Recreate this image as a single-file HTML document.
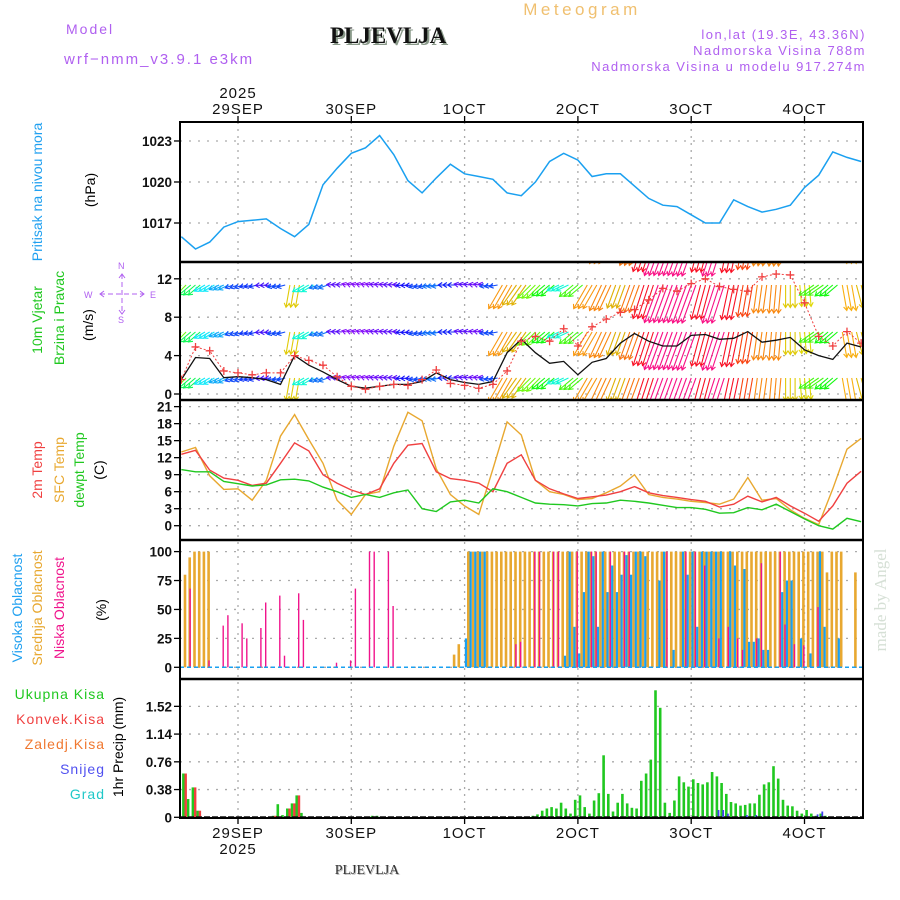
<!DOCTYPE html>
<html><head><meta charset="utf-8">
<style>
html,body{margin:0;padding:0;background:#fff;}
svg{display:block;font-family:"Liberation Sans",sans-serif;}
</style></head>
<body>
<svg id="chart" width="900" height="900" viewBox="0 0 900 900" xmlns="http://www.w3.org/2000/svg">
<defs>
<clipPath id="clipW"><rect x="180" y="262" width="683" height="138"/></clipPath>
<clipPath id="clipAll"><rect x="180" y="122" width="683" height="696"/></clipPath>
</defs>
<text x="582" y="15" text-anchor="middle" font-size="17" letter-spacing="3.5" fill="#f0c070">Meteogram</text>
<text x="332" y="45" font-family="Liberation Serif,serif" font-weight="bold" font-size="23" fill="#8a9a8a">PLJEVLJA</text>
<text x="330" y="43" font-family="Liberation Serif,serif" font-weight="bold" font-size="23" fill="#111">PLJEVLJA</text>
<text x="66" y="34" font-size="14" letter-spacing="2" fill="#b060f0">Model</text>
<text x="64" y="64" font-size="15" letter-spacing="2" fill="#b060f0">wrf−nmm_v3.9.1 e3km</text>
<text x="866" y="39" text-anchor="end" font-size="13" letter-spacing="1.5" fill="#b060f0">lon,lat (19.3E, 43.36N)</text>
<text x="866" y="55" text-anchor="end" font-size="13" letter-spacing="1.5" fill="#b060f0">Nadmorska Visina 788m</text>
<text x="866" y="71" text-anchor="end" font-size="13" letter-spacing="1.5" fill="#b060f0">Nadmorska Visina u modelu 917.274m</text>
<text x="368" y="875" text-anchor="middle" font-family="Liberation Serif,serif" font-size="14" fill="#bbb">PLJEVLJA</text>
<text x="367" y="874" text-anchor="middle" font-family="Liberation Serif,serif" font-size="14" fill="#333">PLJEVLJA</text>
<text transform="translate(886,600) rotate(-90)" text-anchor="middle" font-family="Liberation Serif,serif" font-size="17" fill="#d6e0d6">made by Angel</text>

<text transform="translate(42,192) rotate(-90)" text-anchor="middle" font-size="14" fill="#20a0f0">Pritisak na nivou mora</text>
<text transform="translate(95,190) rotate(-90)" text-anchor="middle" font-size="14" fill="#000">(hPa)</text>
<text transform="translate(42,320) rotate(-90)" text-anchor="middle" font-size="14" fill="#20c820">10m Vjetar</text>
<text transform="translate(64,318) rotate(-90)" text-anchor="middle" font-size="14" fill="#20c820">Brzina i Pravac</text>
<text transform="translate(93,325) rotate(-90)" text-anchor="middle" font-size="14" fill="#000">(m/s)</text>
<g fill="#b060f0" stroke="#b060f0" font-size="9">
<text x="118" y="269" stroke="none">N</text>
<text x="84" y="298" stroke="none">W</text>
<text x="150" y="298" stroke="none">E</text>
<text x="118" y="323" stroke="none">S</text>
<line x1="122" y1="274" x2="122" y2="313" stroke-dasharray="5,3" stroke-width="1"/>
<line x1="100" y1="294" x2="144" y2="294" stroke-dasharray="5,3" stroke-width="1"/>
<path d="M119,278 L122,274 L125,278 M119,310 L122,314 L125,310 M104,291 L100,294 L104,297 M140,291 L144,294 L140,297" fill="none" stroke-width="1"/>
</g>
<text transform="translate(42,470) rotate(-90)" text-anchor="middle" font-size="14" fill="#f04040">2m Temp</text>
<text transform="translate(64,470) rotate(-90)" text-anchor="middle" font-size="14" fill="#e8a830">SFC Temp</text>
<text transform="translate(84,470) rotate(-90)" text-anchor="middle" font-size="14" fill="#20c820">dewpt Temp</text>
<text transform="translate(104,470) rotate(-90)" text-anchor="middle" font-size="14" fill="#000">(C)</text>
<text transform="translate(22,608) rotate(-90)" text-anchor="middle" font-size="14" fill="#20a0f0">Visoka Oblacnost</text>
<text transform="translate(42,608) rotate(-90)" text-anchor="middle" font-size="14" fill="#e8a830">Srednja Oblacnost</text>
<text transform="translate(64,608) rotate(-90)" text-anchor="middle" font-size="14" fill="#f0148c">Niska Oblacnost</text>
<text transform="translate(106,610) rotate(-90)" text-anchor="middle" font-size="14" fill="#000">(%)</text>
<g font-size="14" letter-spacing="1" text-anchor="end">
<text x="105" y="699" fill="#20c820">Ukupna Kisa</text>
<text x="105" y="724" fill="#f04040">Konvek.Kisa</text>
<text x="105" y="749" fill="#f07830">Zaledj.Kisa</text>
<text x="105" y="774" fill="#5050f0">Snijeg</text>
<text x="105" y="799" fill="#20c8c8">Grad</text>
</g>
<text transform="translate(123,747) rotate(-90)" text-anchor="middle" font-size="14" fill="#000">1hr Precip (mm)</text>

<g id="grid"></g>
<g id="marks"></g>
<g id="frame"></g>
</svg>
<script>
const pressure = [1016.0,1015.1,1015.6,1016.7,1017.1,1017.2,1017.3,1016.6,1016.0,1016.9,1019.8,1021.0,1022.1,1022.5,1023.4,1022.0,1020.1,1019.2,1020.3,1021.3,1020.6,1020.4,1020.2,1019.2,1019.0,1020.0,1021.5,1022.1,1021.6,1020.4,1020.6,1020.6,1019.7,1018.8,1018.3,1018.2,1017.6,1017.0,1017.0,1018.7,1018.2,1017.8,1018.0,1018.3,1019.6,1020.5,1022.2,1021.8,1021.5];
const temp2m = [12.6,13.3,9.8,8.4,8.0,7.1,7.5,11.0,14.6,13.2,9.0,7.5,6.3,5.5,6.5,11.0,14.2,14.5,9.5,8.3,8.0,7.5,6.0,11.0,12.5,8.0,6.5,5.6,4.8,5.1,5.4,6.0,6.9,5.8,5.3,5.0,4.6,4.3,3.3,3.8,5.2,4.2,5.0,3.5,2.2,0.8,3.5,7.5,9.6];
const tempSfc = [13.0,13.8,8.8,6.4,6.5,4.5,8.0,15.8,19.6,15.2,11.0,4.5,2.0,5.5,6.0,14.0,20.0,18.5,10.0,5.5,3.5,2.0,10.0,18.3,16.0,8.0,6.0,5.5,4.6,4.8,5.8,7.0,9.0,5.5,5.0,4.7,4.3,4.1,3.8,4.7,8.5,4.5,4.8,2.8,1.3,0.2,6.5,13.5,15.4];
const dewpt = [9.9,9.5,9.5,7.8,7.4,7.0,7.2,8.1,8.2,7.9,6.8,6.0,5.0,5.5,5.0,5.8,6.3,3.0,2.5,4.2,4.5,4.0,6.5,6.0,5.0,4.0,3.8,3.7,3.5,3.9,4.0,4.5,4.3,4.0,3.6,3.2,3.2,2.9,2.2,2.3,3.2,2.8,3.8,2.5,1.2,0.0,-0.6,1.3,0.7];
const windSpeed = [1.5,3.8,3.7,1.7,1.8,1.7,1.5,1.0,4.0,3.0,2.3,1.5,0.8,0.6,0.8,1.0,1.0,1.3,2.2,1.5,1.2,1.0,1.3,4.3,5.7,4.3,3.2,3.4,2.0,3.3,3.7,5.3,6.3,5.5,5.0,5.0,6.1,6.2,5.7,5.8,6.5,5.4,5.6,5.9,4.6,4.0,3.6,5.3,4.9];
const windGust = [1.5,4.9,4.5,2.4,2.2,2.0,2.2,2.2,4.0,3.5,3.0,1.8,0.8,0.5,0.8,1.0,0.9,1.5,2.5,1.1,0.9,0.6,1.0,2.4,5.5,6.0,5.5,6.8,5.0,7.0,7.8,8.5,8.8,9.8,11.0,10.7,11.5,12.0,11.2,10.9,10.7,12.2,12.5,12.4,9.5,6.0,5.0,6.5,5.3];
const windDir = [225,230,240,245,250,255,265,255,190,240,250,275,285,285,280,275,265,255,260,270,280,280,260,210,215,225,230,245,230,210,205,200,200,198,200,200,200,195,198,192,190,188,185,180,175,235,230,170,165];
const arrowSpeed = [4.0,3.3,2.6,2.3,1.8,1.7,1.3,1.8,4.8,2.8,2.0,1.2,1.0,1.0,1.1,1.2,1.5,1.8,2.0,1.6,1.2,1.1,1.8,5.8,5.2,4.0,3.6,2.8,3.8,5.8,6.0,5.2,6.2,7.5,8.5,8.5,8.6,7.5,8.5,7.5,6.8,6.0,6.0,4.8,4.6,3.8,3.6,5.5,5.0];
const cloudHigh = [[60,25],[61,100],[62,100],[63,100],[64,100],[81,10],[82,100],[83,35],[84,12],[85,65],[86,100],[87,96],[88,35],[89,100],[90,65],[91,88],[92,65],[93,80],[94,97],[95,80],[96,100],[97,100],[98,96],[101,75],[102,100],[104,15],[106,100],[107,80],[108,100],[109,35],[110,100],[111,100],[112,100],[113,100],[114,100],[116,100],[117,88],[119,85],[120,22],[121,22],[122,25],[123,15],[124,15],[127,65],[128,75],[129,75],[131,25],[133,12],[135,100],[136,35],[139,25]];
const cloudMid = [[0,80],[1,95],[2,100],[3,100],[4,100],[5,100],[57,11],[58,20],[60,100],[61,100],[62,100],[63,100],[64,100],[65,100],[66,100],[67,100],[68,100],[69,100],[70,100],[71,100],[72,100],[73,100],[74,100],[75,100],[76,100],[77,100],[78,100],[79,100],[80,100],[81,100],[82,100],[83,100],[84,100],[85,100],[86,100],[87,100],[88,100],[89,100],[90,100],[91,100],[92,100],[93,100],[94,100],[95,100],[96,100],[97,100],[98,100],[99,100],[100,100],[101,100],[102,100],[103,100],[104,100],[105,100],[106,100],[107,100],[108,100],[109,100],[110,100],[111,100],[112,100],[113,100],[114,100],[115,100],[116,100],[117,100],[118,100],[119,100],[120,100],[121,100],[122,100],[123,100],[124,100],[125,100],[126,100],[127,100],[128,100],[129,100],[130,100],[131,100],[132,100],[133,100],[134,100],[135,100],[136,82],[137,100],[138,100],[139,100],[142,82]];
const cloudLow = [[1,68],[5,6],[8,36],[9,45],[12,38],[13,25],[16,34],[17,56],[20,62],[21,10],[24,64],[25,41],[32,4],[35,6],[36,68],[39,100],[40,100],[43,100],[44,53],[70,20],[71,22],[74,100],[75,100],[78,100],[79,100],[83,100],[86,100],[87,100],[90,100],[93,100],[94,100],[102,100],[106,100],[108,100],[110,88],[113,25],[115,35],[117,25],[118,15],[121,25],[122,90],[126,100],[127,37],[129,20],[131,19],[134,52]];
const precipTotal = [[0,0.6],[1,0.25],[2,0.41],[3,0.09],[19,0.02],[20,0.18],[21,0.03],[22,0.12],[23,0.19],[24,0.3],[25,0.06],[39,0.01],[40,0.02],[41,0.02],
[74,0.02],[75,0.04],[76,0.09],[77,0.12],[78,0.14],[79,0.12],[80,0.2],[81,0.12],[82,0.05],[83,0.24],[84,0.3],[85,0.14],[86,0.05],[87,0.23],[88,0.33],[89,0.85],[90,0.32],[91,0.08],[92,0.2],[93,0.32],[94,0.19],[95,0.13],[96,0.12],[97,0.5],[98,0.6],[99,0.79],[100,1.74],[101,1.5],[102,0.2],[103,0.06],[104,0.23],[105,0.56],[106,0.48],[107,0.42],[108,0.52],[109,0.47],[110,0.45],[111,0.48],[112,0.62],[113,0.56],[114,0.47],[115,0.32],[116,0.21],[117,0.19],[118,0.16],[119,0.17],[120,0.19],[121,0.19],[122,0.31],[123,0.45],[124,0.48],[125,0.7],[126,0.53],[127,0.24],[128,0.16],[129,0.15],[130,0.09],[131,0.05],[132,0.1],[133,0.05],[134,0.02],[135,0.05],[136,0.02]];
const precipConv = [[0,0.6],[2,0.41],[3,0.09],[19,0.02],[22,0.12],[23,0.19],[24,0.3]];
const precipSnow = [[113,0.1],[114,0.1],[115,0.05],[119,0.03],[121,0.03],[134,0.04],[135,0.08]];
const dayLabels = ["29SEP","30SEP","1OCT","2OCT","3OCT","4OCT"];
const pressTicks = [1017,1020,1023];
const windTicks = [0,4,8,12];
const tempTicks = [0,3,6,9,12,15,18,21];
const cloudTicks = [0,25,50,75,100];
const precipTicks = [0,0.38,0.76,1.14,1.52];

const NS="http://www.w3.org/2000/svg";
const X = h => 238 + (h-24)*113.3/24;
const stepH = k => 12 + 3*k;
const barH = i => 12.5 + i;
const yP = p => 223 - (p-1017)*13.67;
const yW = v => 394 - v*9.6;
const yT = t => 525.7 - t*5.67;
const yC = c => 667.3 - c*1.157;
const yR = r => 817.3 - r*73;
const L=180, R=863;
function mk(tag, attrs, parent){const e=document.createElementNS(NS,tag);for(const k in attrs)e.setAttribute(k,attrs[k]);parent.appendChild(e);return e;}
const grid=document.getElementById('grid'), marks=document.getElementById('marks'), frame=document.getElementById('frame');

function yAxis(ticks, fy, fmt, name){
  ticks.forEach(t=>{
    const y=fy(t);
    const g=mk('line',{x1:L,x2:R,y1:y,y2:y,stroke:'#aaa','stroke-width':1.3,'stroke-dasharray':'2,7'},grid);
    
    
    const tk=mk('line',{x1:L-6,x2:L,y1:y,y2:y,stroke:'#000','stroke-width':1.3},frame);
    
    
    const tx=mk('text',{x:L-8,y:y+5,'text-anchor':'end','font-size':13.5,'font-weight':'bold',fill:'#111'},frame);
    tx.textContent=fmt(t);
    
    
  });
}
yAxis(pressTicks,yP,String,'pressure');
yAxis(windTicks,yW,String,'wind');
yAxis(tempTicks,yT,String,'temp');
yAxis(cloudTicks,yC,String,'cloud');
yAxis(precipTicks,yR,t=>String(t),'precip');
dayLabels.forEach((d,i)=>{
  const x=X(24+24*i);
  const v=mk('line',{x1:x,x2:x,y1:122,y2:818,stroke:'#aaa','stroke-width':1.3,'stroke-dasharray':'2,5'},grid);
  
  
  const t1=mk('line',{x1:x,x2:x,y1:116,y2:122,stroke:'#000','stroke-width':1.3},frame);
  
  
  const t2=mk('line',{x1:x,x2:x,y1:818,y2:824,stroke:'#000','stroke-width':1.3},frame);
  
  
  const a=mk('text',{x:x,y:114,'text-anchor':'middle','font-size':15,'letter-spacing':1,fill:'#111'},frame);
  a.textContent=d;
  
  
  const b=mk('text',{x:x,y:838,'text-anchor':'middle','font-size':15,'letter-spacing':1,fill:'#111'},frame);
  b.textContent=d;
  
  
});
[[98,'top-year-label'],[854,'bottom-year-label']].forEach(([y,n])=>{
  const t=mk('text',{x:X(24),y:y,'text-anchor':'middle','font-size':15,'letter-spacing':1,fill:'#111'},frame);
  t.textContent='2025';
  
  
});

function series(arr, fy, color, name, w){
  const d=arr.map((v,k)=>(k?'L':'M')+X(stepH(k)).toFixed(1)+','+fy(v).toFixed(1)).join(' ');
  const p=mk('path',{d:d,fill:'none',stroke:color,'stroke-width':w||1.4,'clip-path':'url(#clipAll)'},marks);
  
  
}
series(pressure,yP,'#1aa0f0','pressure-line',1.5);
series(tempSfc,yT,'#e8a830','sfc-temp-line');
series(temp2m,yT,'#f04040','temp-2m-line');
series(dewpt,yT,'#20c820','dewpt-line');

function spdColor(s){
  const st=[[1,270],[1.7,230],[2.5,190],[3.5,125],[4.6,58],[5.8,35],[7,8],[8.5,-30]];
  let h=st[0][1];
  if(s>=st[st.length-1][0]) h=st[st.length-1][1];
  else for(let i=0;i<st.length-1;i++){ if(s>=st[i][0]&&s<st[i+1][0]){const f=(s-st[i][0])/(st[i+1][0]-st[i][0]);h=st[i][1]+f*(st[i+1][1]-st[i][1]);} }
  h=(h+360)%360;
  const l=(h>45&&h<80)?45:52;
  return 'hsl('+h.toFixed(0)+',95%,'+l+'%)';
}
const wg=mk('g',{'clip-path':'url(#clipW)'},marks);


const rows=[238,285,332,378];
windDir.forEach((dir,k)=>{
  const s=arrowSpeed[k], len=s*4.7, col=spdColor(s), a=dir*Math.PI/180;
  const dx=len*Math.sin(a), dy=-len*Math.cos(a);
  const ux=dx/len, uy=dy/len;
  [-1,0,1].forEach(o=>{
    const x0=X(stepH(k)+o);
    rows.forEach(y0=>{
      const x1=x0+dx, y1=y0+dy;
      const hx1=x1-4*ux+2.5*uy, hy1=y1-4*uy-2.5*ux, hx2=x1-4*ux-2.5*uy, hy2=y1-4*uy+2.5*ux;
      const p=mk('path',{d:`M${x0.toFixed(1)},${y0} L${x1.toFixed(1)},${y1.toFixed(1)} M${hx1.toFixed(1)},${hy1.toFixed(1)} L${x1.toFixed(1)},${y1.toFixed(1)} L${hx2.toFixed(1)},${hy2.toFixed(1)}`,fill:'none',stroke:col,'stroke-width':1.1},wg);
      
      
    });
  });
});
const ws=windSpeed.map((v,k)=>(k?'L':'M')+X(stepH(k)).toFixed(1)+','+yW(v).toFixed(1)).join(' ');
const wsl=mk('path',{d:ws,fill:'none',stroke:'#111','stroke-width':1.3,'clip-path':'url(#clipW)'},marks);


const gs=windGust.map((v,k)=>(k?'L':'M')+X(stepH(k)).toFixed(1)+','+yW(v).toFixed(1)).join(' ');
const gl=mk('path',{d:gs,fill:'none',stroke:'#f04040','stroke-width':1,'stroke-dasharray':'2,2','clip-path':'url(#clipW)'},marks);


windGust.forEach((v,k)=>{
  const x=X(stepH(k)), y=yW(v);
  const p=mk('path',{d:`M${x-4},${y} L${x+4},${y} M${x},${y-4} L${x},${y+4}`,stroke:'#f04040','stroke-width':1.3,'clip-path':'url(#clipW)'},marks);
  
  
});

function bars(arr, fy, y0, off, w, color, name){
  arr.forEach(([i,v])=>{
    const x=X(barH(i))+off, y=fy(v);
    const r=mk('rect',{x:x.toFixed(1),y:y.toFixed(1),width:w,height:Math.max(0,y0-y).toFixed(1),fill:color},marks);
    
    
  });
}
bars(cloudMid,yC,yC(0),0,2.6,'#e8a830','mid-cloud-bar');
bars(cloudHigh,yC,yC(0),-2.2,2.2,'#1aa0f0','high-cloud-bar');
bars(cloudLow,yC,yC(0),1,1.4,'#f0148c','low-cloud-bar');
const cb=mk('line',{x1:L,x2:R,y1:yC(0),y2:yC(0),stroke:'#1aa0f0','stroke-width':1.5,'stroke-dasharray':'4,3'},marks);


bars(precipTotal,yR,yR(0),-1.6,2.6,'#20c820','total-precip-bar');
bars(precipConv,yR,yR(0),0.8,2.4,'#f04040','convective-precip-bar');
bars(precipSnow,yR,yR(0),0.4,1.8,'#4040f0','snow-bar');
const pb=mk('line',{x1:L,x2:R,y1:yR(0),y2:yR(0),stroke:'#111','stroke-width':2.2,'stroke-dasharray':'6,2'},marks);



const fr=mk('rect',{x:L,y:122,width:R-L,height:696,fill:'none',stroke:'#000','stroke-width':2},frame);


[262,400,540,679].forEach(y=>{
  const s=mk('line',{x1:L,x2:R,y1:y,y2:y,stroke:'#000','stroke-width':2.4},frame);
  
  
});
</script>
</body></html>
